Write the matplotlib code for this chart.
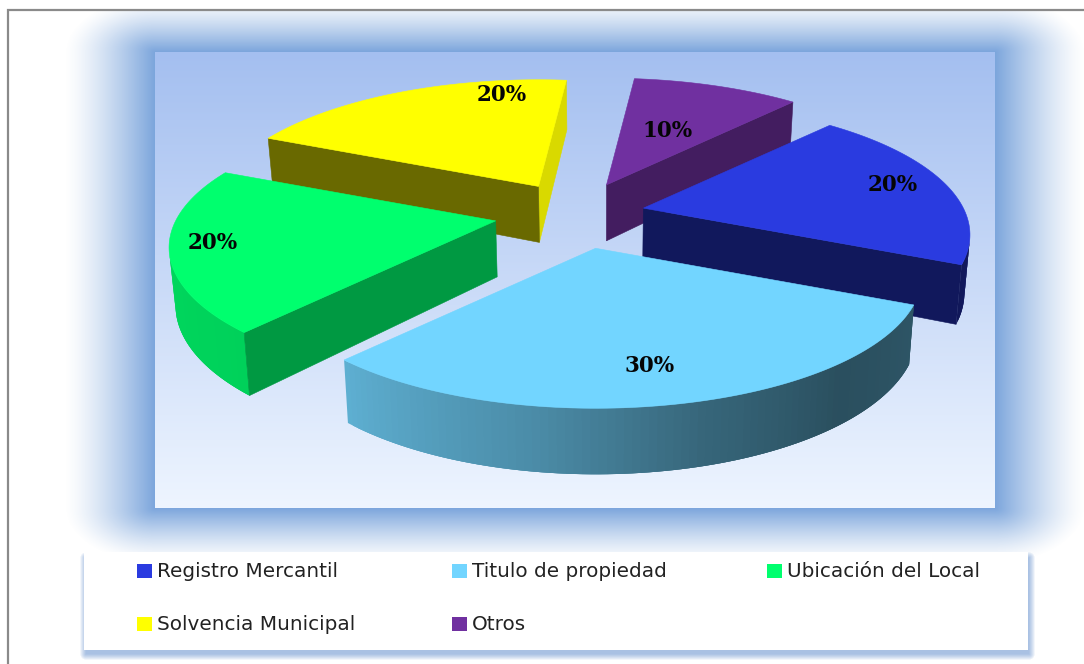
import matplotlib
matplotlib.use('Agg')
import matplotlib.pyplot as plt
from matplotlib.patches import Polygon, Rectangle
import numpy as np

# data
categories = ['Registro Mercantil', 'Titulo de propiedad', 'Ubicación del Local',
              'Solvencia Municipal', 'Otros']
percent = [20, 30, 20, 20, 10]
colors = ['#2a3be0', '#72d5ff', '#00ff6e', '#ffff00', '#7030a0']

# pie look
start_angle = 48
center = (574, 215)
explode = (75, 33)
nudge_x = [-4, 6, -5, 2, 2]
nudge_y = [0, 1, -1, 0, 0]
rad_x, rad_y = 320, 128
persp = 0.2
label_shift = [1.5, -1.5, -1.5, -21, 0]
label_rad = [0.834, 0.785, 0.87, 0.855, 0.51]

W, H = 1084, 664


def to_rgb(c, k=1.0):
    return tuple(np.array(matplotlib.colors.to_rgb(c)) * k)


def rim(t, r=1.0):
    # point on the tilted circle, relative to the slice apex
    t = np.radians(t)
    u, v = r * np.cos(t), r * np.sin(t)
    s = 1 / (1 + persp * v)
    return rad_x * u * s, -rad_y * v * s, s


def drop(p, s):
    # bottom of the wall under a top point
    d = 16 + 40 * s
    return 600 + (p[0] - 600) * 0.985, p[1] + d


def area(pts):
    x, y = np.array(pts).T
    return 0.5 * np.sum(x * np.roll(y, -1) - np.roll(x, -1) * y)


def face(ax, pts, col, lw=0.4):
    # only faces turned to the viewer
    if area(pts) > 0:
        ax.add_patch(Polygon(pts, closed=True, fc=col, ec=col, lw=lw))


def wall_shade(normal):
    n = (normal + 180) % 360 - 180
    return np.interp(n, [-114, -42, -6], [0.41, 0.6, 0.85])


def rim_shade(t):
    if t > 60:
        t -= 360
    return np.interp(t, [-180, -132, -100, -75, -50, -24, 0],
                     [0.85, 0.82, 0.66, 0.48, 0.37, 0.40, 0.48])


def soft_box(ax, box, rx, ry, col, power):
    # blurred rectangle used for the glow and the shadows
    x0, y0, x1, y1 = box
    xx, yy = np.meshgrid(np.arange(W) + 0.5, np.arange(H) + 0.5)
    dx = np.maximum(np.maximum(x0 - xx, xx - x1), 0) / rx
    dy = np.maximum(np.maximum(y0 - yy, yy - y1), 0) / ry
    a = (1 - np.clip(np.hypot(dx, dy), 0, 1)) ** power
    a[yy < 10] = 0
    a[xx < 8] = 0
    img = np.zeros((H, W, 4))
    img[..., :3] = matplotlib.colors.to_rgb(col)
    img[..., 3] = a
    ax.imshow(img, extent=(0, W, H, 0), aspect='auto', interpolation='bilinear')


fig = plt.figure(figsize=(W / 100, H / 100), dpi=100, facecolor='white')
ax = fig.add_axes([0, 0, 1, 1])

# legend box and its shadow, the glow falls over its top
soft_box(ax, (86, 558, 1029, 654), 6, 6, '#a9c1e3', 0.8)
ax.add_patch(Rectangle((84, 552), 944, 98, fc='white', ec='none'))
soft_box(ax, (155, 52, 995, 508), 90, 55, '#7ba5dc', 1.3)

# plot area
top, bottom = np.array(to_rgb('#a4bff0')), np.array(to_rgb('#eef5ff'))
grad = np.linspace(0, 1, 256)[:, None, None] * (bottom - top)[None, None, :] + top
ax.imshow(grad, extent=(155, 995, 508, 52), aspect='auto')

# frame
ax.plot([8, 8, W], [H, 10, 10], color='#8a8a8a', lw=1.6, solid_joinstyle='miter')

# slices
spans = np.array(percent) / sum(percent) * 360
hi = start_angle - np.concatenate([[0], np.cumsum(spans)[:-1]])
lo = hi - spans
mid = (hi + lo) / 2
apex_x = center[0] + explode[0] * np.cos(np.radians(mid)) + np.array(nudge_x)
apex_y = center[1] - explode[1] * np.sin(np.radians(mid)) + np.array(nudge_y)

for i in np.argsort(-np.sin(np.radians(mid))):
    ts = np.linspace(lo[i], hi[i], 90)
    a = (apex_x[i], apex_y[i])
    rx_, ry_, ss = rim(ts)
    edge = list(zip(a[0] + rx_, a[1] + ry_))
    under = [drop(p, s) for p, s in zip(edge, ss)]
    a_b = drop(a, 1.0)

    # curved side first, each strip runs under the next one so no seams show
    for j in range(len(ts) - 1):
        k = min(j + 3, len(ts) - 1)
        if area([edge[j], edge[j + 1], under[j + 1], under[j]]) > 0:
            col = to_rgb(colors[i], rim_shade(ts[j]))
            ax.add_patch(Polygon([edge[j]] + edge[j + 1:k + 1] + under[j + 1:k + 1][::-1] + [under[j]],
                                 closed=True, fc=col, ec='none'))
    # flat walls, then the top
    face(ax, [a, edge[0], under[0], a_b], to_rgb(colors[i], wall_shade(lo[i] - 90)))
    face(ax, [edge[-1], a, a_b, under[-1]], to_rgb(colors[i], wall_shade(hi[i] + 90)))
    ax.add_patch(Polygon([a] + edge, closed=True, fc=colors[i], ec=colors[i], lw=0.4))

# percent labels
for i in range(len(percent)):
    x, y, _ = rim(mid[i] + label_shift[i], label_rad[i])
    ax.text(apex_x[i] + x, apex_y[i] + y + 1, f'{percent[i]}%', ha='center', va='center',
            fontsize=15.5, fontweight='bold', family='DejaVu Serif', color='#050505')

# legend
legend_x = [137, 452, 767, 137, 452]
legend_y = [571, 571, 571, 624, 624]
for name, col, x, y in zip(categories, colors, legend_x, legend_y):
    ax.add_patch(Rectangle((x, y - 7), 15, 14, fc=col, ec='none'))
    ax.text(x + 20, y + 0.5, name, ha='left', va='center', fontsize=14.4,
            family='DejaVu Sans', color='#222222')

ax.set_xlim(0, W)
ax.set_ylim(H, 0)
ax.axis('off')
fig.savefig('out.png', dpi=100)
